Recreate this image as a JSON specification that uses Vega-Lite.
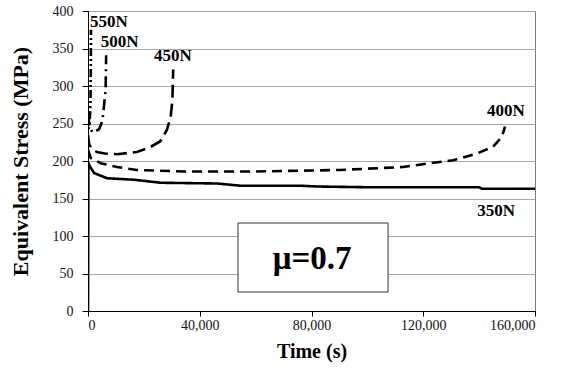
{
  "$schema": "https://vega.github.io/schema/vega-lite/v6.json",
  "autosize": {"type": "none"},
  "padding": {"left": 88, "top": 11, "right": 34, "bottom": 64},
  "width": 447,
  "height": 300,
  "background": "white",
  "config": {
    "view": {"stroke": "#7a7a7a", "strokeWidth": 1},
    "font": "Liberation Serif",
    "axis": {
      "labelFont": "Liberation Serif",
      "labelFontSize": 14,
      "labelColor": "#111",
      "titleFont": "Liberation Serif",
      "titleFontWeight": "bold",
      "titleColor": "#000",
      "domainColor": "#000",
      "tickColor": "#000",
      "gridColor": "#a6a6a6",
      "gridWidth": 1
    }
  },
  "datasets": {
    "curves": [
      {"load": "350N", "i": 0, "t": 0, "s": 0},
      {"load": "350N", "i": 1, "t": 150, "s": 198},
      {"load": "350N", "i": 2, "t": 360, "s": 195},
      {"load": "350N", "i": 3, "t": 2150, "s": 184},
      {"load": "350N", "i": 4, "t": 6800, "s": 177},
      {"load": "350N", "i": 5, "t": 16500, "s": 175},
      {"load": "350N", "i": 6, "t": 26000, "s": 171},
      {"load": "350N", "i": 7, "t": 46200, "s": 170},
      {"load": "350N", "i": 8, "t": 54700, "s": 167},
      {"load": "350N", "i": 9, "t": 76100, "s": 167},
      {"load": "350N", "i": 10, "t": 82000, "s": 166},
      {"load": "350N", "i": 11, "t": 100000, "s": 165},
      {"load": "350N", "i": 12, "t": 140000, "s": 165},
      {"load": "350N", "i": 13, "t": 141000, "s": 163},
      {"load": "350N", "i": 14, "t": 160000, "s": 163},

      {"load": "400N", "i": 0, "t": 0, "s": 215},
      {"load": "400N", "i": 1, "t": 970, "s": 204},
      {"load": "400N", "i": 2, "t": 4550, "s": 197},
      {"load": "400N", "i": 3, "t": 10400, "s": 192},
      {"load": "400N", "i": 4, "t": 17500, "s": 188},
      {"load": "400N", "i": 5, "t": 34400, "s": 186},
      {"load": "400N", "i": 6, "t": 60000, "s": 186},
      {"load": "400N", "i": 7, "t": 90000, "s": 188},
      {"load": "400N", "i": 8, "t": 112800, "s": 192},
      {"load": "400N", "i": 9, "t": 122400, "s": 197},
      {"load": "400N", "i": 10, "t": 130700, "s": 201},
      {"load": "400N", "i": 11, "t": 139200, "s": 210},
      {"load": "400N", "i": 12, "t": 145000, "s": 219},
      {"load": "400N", "i": 13, "t": 148100, "s": 232},
      {"load": "400N", "i": 14, "t": 149300, "s": 246},

      {"load": "450N", "i": 0, "t": 0, "s": 235},
      {"load": "450N", "i": 1, "t": 400, "s": 222},
      {"load": "450N", "i": 2, "t": 1500, "s": 216},
      {"load": "450N", "i": 3, "t": 3200, "s": 212},
      {"load": "450N", "i": 4, "t": 6000, "s": 210},
      {"load": "450N", "i": 5, "t": 10400, "s": 209},
      {"load": "450N", "i": 6, "t": 17500, "s": 212},
      {"load": "450N", "i": 7, "t": 22000, "s": 218},
      {"load": "450N", "i": 8, "t": 25800, "s": 226},
      {"load": "450N", "i": 9, "t": 28200, "s": 241},
      {"load": "450N", "i": 10, "t": 29600, "s": 259},
      {"load": "450N", "i": 11, "t": 30200, "s": 281},
      {"load": "450N", "i": 12, "t": 30500, "s": 322},

      {"load": "500N", "i": 0, "t": 0, "s": 262},
      {"load": "500N", "i": 1, "t": 500, "s": 248},
      {"load": "500N", "i": 2, "t": 1500, "s": 238},
      {"load": "500N", "i": 3, "t": 3900, "s": 242},
      {"load": "500N", "i": 4, "t": 4800, "s": 250},
      {"load": "500N", "i": 5, "t": 5400, "s": 261},
      {"load": "500N", "i": 6, "t": 6300, "s": 295},
      {"load": "500N", "i": 7, "t": 6500, "s": 341},

      {"load": "550N", "i": 0, "t": 0, "s": 258},
      {"load": "550N", "i": 1, "t": 250, "s": 243},
      {"load": "550N", "i": 2, "t": 600, "s": 252},
      {"load": "550N", "i": 3, "t": 900, "s": 275},
      {"load": "550N", "i": 4, "t": 970, "s": 310},
      {"load": "550N", "i": 5, "t": 1070, "s": 375}
    ],
    "labels": [
      {"text": "550N", "t": 700, "s": 385},
      {"text": "500N", "t": 4550, "s": 359},
      {"text": "450N", "t": 23600, "s": 340},
      {"text": "400N", "t": 142800, "s": 267},
      {"text": "350N", "t": 139300, "s": 133}
    ],
    "box": [
      {"t": 53700, "t2": 107400, "s": 25.3, "s2": 117.3, "text": "μ=0.7", "tc": 80200, "sc": 69}
    ]
  },
  "encoding": {
    "x": {
      "field": "t", "type": "quantitative",
      "scale": {"domain": [0, 160000], "nice": false},
      "axis": {
        "title": "Time (s)", "titleFontSize": 20, "titlePadding": 9,
        "values": [0, 40000, 80000, 120000, 160000], "format": ",d",
        "labelFont": "Liberation Serif", "labelFontSize": 14,
        "grid": false, "tickSize": 5, "labelPadding": 2
      }
    },
    "y": {
      "field": "s", "type": "quantitative",
      "scale": {"domain": [0, 400], "nice": false},
      "axis": {
        "title": "Equivalent Stress (MPa)", "titleFontSize": 22, "titlePadding": 20,
        "values": [0, 50, 100, 150, 200, 250, 300, 350, 400],
        "labelFont": "Liberation Serif", "labelFontSize": 14,
        "grid": true, "tickSize": 6, "labelPadding": 9
      }
    }
  },
  "layer": [
    {
      "data": {"name": "curves"},
      "mark": {"type": "line", "color": "#000", "strokeWidth": 2.6, "clip": true},
      "encoding": {
        "detail": {"field": "load", "type": "nominal"},
        "order": {"field": "i", "type": "quantitative"},
        "strokeDash": {
          "field": "load", "type": "nominal",
          "scale": {
            "domain": ["350N", "400N", "450N", "500N", "550N"],
            "range": [[1, 0], [10, 6], [13, 6], [11, 5, 2, 5], [8, 3, 2, 3, 2, 3]]
          },
          "legend": null
        }
      }
    },
    {
      "data": {"name": "labels"},
      "mark": {"type": "text", "align": "left", "baseline": "middle", "font": "Liberation Serif", "fontWeight": "bold", "fontSize": 17, "color": "#000"},
      "encoding": {
        "text": {"field": "text"}
      }
    },
    {
      "data": {"name": "box"},
      "mark": {"type": "rect", "fill": "white", "stroke": "#333", "strokeWidth": 1},
      "encoding": {
        "x2": {"field": "t2"},
        "y2": {"field": "s2"}
      }
    },
    {
      "data": {"name": "box"},
      "mark": {"type": "text", "align": "center", "baseline": "middle", "font": "Liberation Serif", "fontWeight": "bold", "fontSize": 33, "color": "#000"},
      "encoding": {
        "x": {"field": "tc", "type": "quantitative"},
        "y": {"field": "sc", "type": "quantitative"},
        "text": {"field": "text"}
      }
    }
  ]
}
